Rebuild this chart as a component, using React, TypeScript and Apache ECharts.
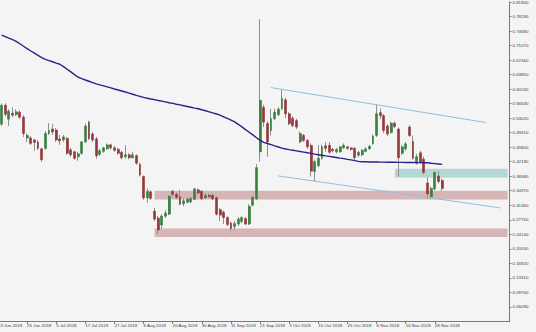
import React, { useEffect, useRef } from "react";
import * as echarts from "echarts";

const MONTHS = ["Jan", "Feb", "Mar", "Apr", "May", "Jun", "Jul", "Aug", "Sep", "Oct", "Nov", "Dec"];
const FIRST_DAY = Date.UTC(2018, 5, 13);
const CATEGORY_COUNT = 141;
const LAST_DATA_INDEX = 122; // 30 Nov 2018

// daily candles from 14 Jun 2018 to 30 Nov 2018
const OPEN = [
  0.5154, 0.5621, 0.5277, 0.5424, 0.5388, 0.5449, 0.5326, 0.4809, 0.4809, 0.4760,
  0.4711, 0.4539, 0.4551, 0.4920, 0.5031, 0.5006, 0.4785, 0.4760, 0.4797, 0.4514,
  0.4465, 0.4342, 0.4428, 0.4711, 0.5203, 0.4908, 0.4785, 0.4403, 0.4477, 0.4539,
  0.4637, 0.4563, 0.4526, 0.4453, 0.4342, 0.4391, 0.4317, 0.4367, 0.4157, 0.3850,
  0.3321, 0.3469, 0.2989, 0.2817, 0.2645, 0.2866, 0.2915, 0.3481, 0.3407, 0.3346,
  0.3173, 0.3210, 0.3223, 0.3284, 0.3518, 0.3481, 0.3321, 0.3383, 0.3383, 0.3321,
  0.3026, 0.2964, 0.2829, 0.2694, 0.2608, 0.2669, 0.2731, 0.2804, 0.2669, 0.3137,
  0.3297, 0.4465, 0.5572, 0.5166, 0.4994, 0.5289, 0.5388, 0.5535, 0.5757, 0.5412,
  0.5301, 0.5240, 0.4711, 0.4871, 0.4748, 0.4625, 0.3973, 0.4121, 0.4305, 0.4612,
  0.4625, 0.4526, 0.4465, 0.4465, 0.4563, 0.4588, 0.4563, 0.4551, 0.4379, 0.4391,
  0.4477, 0.4539, 0.4674, 0.4871, 0.5437, 0.5363, 0.5105, 0.4945, 0.5178, 0.5031,
  0.4428, 0.4539, 0.5080, 0.4723, 0.4182, 0.4440, 0.4280, 0.3690, 0.3346, 0.3543,
  0.3862, 0.3752,
];
const HIGH = [
  0.5670, 0.5670, 0.5523, 0.5572, 0.5523, 0.5498, 0.5375, 0.4920, 0.4859, 0.4785,
  0.4760, 0.4563, 0.4982, 0.5178, 0.5154, 0.5055, 0.4883, 0.4883, 0.4834, 0.4563,
  0.4490, 0.4465, 0.4735, 0.5166, 0.5240, 0.4957, 0.4834, 0.4539, 0.4588, 0.4674,
  0.4662, 0.4612, 0.4563, 0.4490, 0.4625, 0.4428, 0.4465, 0.4403, 0.4194, 0.3875,
  0.3555, 0.3506, 0.3075, 0.2866, 0.2915, 0.3014, 0.3383, 0.3518, 0.3456, 0.3518,
  0.3309, 0.3321, 0.3334, 0.3567, 0.3555, 0.3506, 0.3432, 0.3432, 0.3420, 0.3358,
  0.3063, 0.3001, 0.2866, 0.2731, 0.2743, 0.2841, 0.2866, 0.2841, 0.3161, 0.3358,
  0.4157, 0.7762, 0.5633, 0.5227, 0.5535, 0.5535, 0.5572, 0.6015, 0.5806, 0.5449,
  0.5351, 0.5289, 0.4969, 0.4908, 0.4785, 0.4674, 0.4268, 0.4625, 0.4637, 0.4711,
  0.4711, 0.4563, 0.4563, 0.4612, 0.4674, 0.4612, 0.4588, 0.4588, 0.4490, 0.4539,
  0.4576, 0.4637, 0.4895, 0.5646, 0.5547, 0.5400, 0.5154, 0.5215, 0.5215, 0.5068,
  0.4625, 0.4711, 0.5129, 0.4871, 0.4416, 0.4490, 0.4342, 0.3825, 0.3604, 0.3985,
  0.3985, 0.3801,
];
const LOW = [
  0.5105, 0.5351, 0.5105, 0.5326, 0.5351, 0.5277, 0.4834, 0.4711, 0.4637, 0.4490,
  0.4514, 0.4219, 0.4514, 0.4883, 0.4883, 0.4711, 0.4637, 0.4711, 0.4391, 0.4342,
  0.4268, 0.4243, 0.4391, 0.4686, 0.4760, 0.4711, 0.4293, 0.4367, 0.4440, 0.4514,
  0.4526, 0.4465, 0.4391, 0.4280, 0.4293, 0.4280, 0.4293, 0.4145, 0.3850, 0.3272,
  0.3198, 0.3272, 0.2743, 0.2423, 0.2546, 0.2817, 0.2891, 0.3358, 0.3284, 0.3137,
  0.3112, 0.3186, 0.3186, 0.3260, 0.3407, 0.3260, 0.3284, 0.3309, 0.3260, 0.2878,
  0.2743, 0.2669, 0.2620, 0.2509, 0.2522, 0.2620, 0.2694, 0.2645, 0.2645, 0.3112,
  0.3260, 0.4219, 0.5080, 0.4342, 0.4871, 0.5252, 0.5351, 0.5498, 0.5301, 0.5129,
  0.5080, 0.5031, 0.4674, 0.4711, 0.4539, 0.3850, 0.3727, 0.4084, 0.4268, 0.4465,
  0.4416, 0.4453, 0.4428, 0.4440, 0.4539, 0.4514, 0.4490, 0.4256, 0.4342, 0.4354,
  0.4453, 0.4514, 0.4637, 0.4834, 0.5277, 0.4932, 0.4859, 0.4908, 0.5055, 0.3850,
  0.4391, 0.4490, 0.4834, 0.4268, 0.4145, 0.4170, 0.3899, 0.3297, 0.3297, 0.3506,
  0.3678, 0.3493,
];
const CLOSE = [
  0.5621, 0.5400, 0.5474, 0.5375, 0.5461, 0.5326, 0.4920, 0.4871, 0.4674, 0.4699,
  0.4551, 0.4268, 0.4920, 0.4994, 0.4957, 0.4760, 0.4735, 0.4834, 0.4428, 0.4391,
  0.4305, 0.4416, 0.4711, 0.5105, 0.4797, 0.4760, 0.4367, 0.4490, 0.4563, 0.4637,
  0.4563, 0.4502, 0.4428, 0.4317, 0.4391, 0.4317, 0.4391, 0.4182, 0.3887, 0.3321,
  0.3481, 0.3309, 0.2792, 0.2522, 0.2866, 0.2940, 0.3358, 0.3407, 0.3334, 0.3161,
  0.3247, 0.3284, 0.3309, 0.3543, 0.3444, 0.3297, 0.3383, 0.3346, 0.3297, 0.2915,
  0.2891, 0.2829, 0.2657, 0.2558, 0.2681, 0.2792, 0.2829, 0.2669, 0.3112, 0.3334,
  0.4071, 0.5744, 0.5203, 0.4711, 0.5289, 0.5449, 0.5523, 0.5793, 0.5412, 0.5166,
  0.5117, 0.5080, 0.4920, 0.4748, 0.4588, 0.3985, 0.4219, 0.4305, 0.4588, 0.4551,
  0.4453, 0.4490, 0.4526, 0.4588, 0.4625, 0.4551, 0.4526, 0.4317, 0.4453, 0.4502,
  0.4539, 0.4600, 0.4859, 0.5412, 0.5363, 0.4994, 0.4908, 0.5178, 0.5092, 0.4317,
  0.4588, 0.4662, 0.4871, 0.4305, 0.4342, 0.4207, 0.3948, 0.3419, 0.3555, 0.3948,
  0.3727, 0.3555,
];
// moving average
const MA = [
  0.7366, 0.7329, 0.7290, 0.7253, 0.7211, 0.7152, 0.7090, 0.7031, 0.6972, 0.6918,
  0.6862, 0.6807, 0.6763, 0.6734, 0.6704, 0.6672, 0.6642, 0.6583, 0.6517, 0.6451,
  0.6384, 0.6320, 0.6283, 0.6251, 0.6219, 0.6187, 0.6155, 0.6128, 0.6104, 0.6079,
  0.6054, 0.6027, 0.6003, 0.5978, 0.5951, 0.5924, 0.5897, 0.5870, 0.5845, 0.5818,
  0.5798, 0.5779, 0.5761, 0.5742, 0.5725, 0.5705, 0.5685, 0.5668, 0.5648, 0.5631,
  0.5611, 0.5592, 0.5572, 0.5552, 0.5535, 0.5510, 0.5486, 0.5459, 0.5432, 0.5405,
  0.5378, 0.5336, 0.5294, 0.5252, 0.5210, 0.5149, 0.5085, 0.5018, 0.4952, 0.4885,
  0.4816, 0.4750, 0.4698, 0.4671, 0.4642, 0.4612, 0.4585, 0.4556, 0.4536, 0.4519,
  0.4504, 0.4489, 0.4472, 0.4457, 0.4440, 0.4425, 0.4408, 0.4393, 0.4378, 0.4364,
  0.4351, 0.4337, 0.4322, 0.4307, 0.4295, 0.4278, 0.4263, 0.4245, 0.4228, 0.4218,
  0.4216, 0.4213, 0.4213, 0.4211, 0.4208, 0.4208, 0.4206, 0.4206, 0.4204, 0.4201,
  0.4201, 0.4199, 0.4199, 0.4199, 0.4196, 0.4196, 0.4194, 0.4194, 0.4181, 0.4172,
  0.4162, 0.4152,
];

// channel lines: [category index, price]
const UPPER_CHANNEL = [[75, 0.6062], [134, 0.5193]];
const LOWER_CHANNEL = [[77, 0.3866], [138, 0.3069]];

// zones: start category index, low, high
const ZONE_START = [43, 43, 109];
const ZONE_LOW = [0.3279, 0.2349, 0.3825];
const ZONE_HIGH = [0.3498, 0.2558, 0.4046];
const ZONE_COLORS = ["#d5b5b5", "#d5b5b5", "#b4d7d4"];

// price axis
const Y_MIN = 0.0248;
const Y_MAX = 0.819;
const Y_STEP = 0.0361;

function buildCategories(): string[] {
  const out: string[] = [];
  let t = FIRST_DAY;
  while (out.length < CATEGORY_COUNT) {
    const d = new Date(t);
    const wd = d.getUTCDay();
    if (wd !== 0 && wd !== 6) {
      out.push(`${d.getUTCDate()} ${MONTHS[d.getUTCMonth()]} ${d.getUTCFullYear()}`);
    }
    t += 86400000;
  }
  return out;
}

export default function App() {
  const ref = useRef<HTMLDivElement>(null);

  useEffect(() => {
    if (!ref.current) return;
    const chart = echarts.init(ref.current, null, { renderer: "svg" });
    const cats = buildCategories();

    const full: any[] = ["-"];
    const bodies: any[] = ["-"];
    OPEN.forEach((o, j) => {
      const c = CLOSE[j];
      full.push([o, c, LOW[j], HIGH[j]]);
      bodies.push([o, c, Math.min(o, c), Math.max(o, c)]);
    });
    const ma: any[] = ["-", ...MA];

    const showTick = (index: number) => index % 8 === 0 && index <= LAST_DATA_INDEX;

    const zones = ZONE_START.map((s, j) => [
      { xAxis: cats[s], yAxis: ZONE_LOW[j], itemStyle: { color: ZONE_COLORS[j], opacity: 1 } },
      { xAxis: cats[CATEGORY_COUNT - 1], yAxis: ZONE_HIGH[j] },
    ]);

    const option: any = {
      animation: false,
      backgroundColor: "#f4f4f4",
      textStyle: { fontFamily: "Liberation Sans, Arial, sans-serif" },
      grid: { left: 0.53, right: 26.5, top: -1.4, bottom: 10.6, containLabel: false },
      xAxis: {
        type: "category",
        data: cats,
        boundaryGap: true,
        axisLine: { show: true, lineStyle: { color: "#7a7a7a", width: 1 } },
        axisTick: {
          show: true,
          alignWithLabel: true,
          length: 2.5,
          interval: (index: number) => showTick(index),
          lineStyle: { color: "#7a7a7a" },
        },
        axisLabel: {
          interval: (index: number) => showTick(index),
          align: "left",
          fontSize: 4.4,
          color: "#404040",
          margin: 2,
        },
        splitLine: { show: false },
      },
      yAxis: {
        type: "value",
        position: "right",
        min: Y_MIN,
        max: Y_MAX,
        interval: Y_STEP,
        scale: true,
        axisLine: { show: true, lineStyle: { color: "#7a7a7a", width: 1 } },
        axisTick: { show: true, length: 2, lineStyle: { color: "#7a7a7a" } },
        axisLabel: {
          showMinLabel: false,
          fontSize: 4.4,
          color: "#404040",
          margin: 3,
          formatter: (v: number) => v.toFixed(5),
        },
        splitLine: { show: false },
      },
      series: [
        {
          type: "candlestick",
          name: "wicks",
          data: full,
          barWidth: 1,
          z: 2,
          itemStyle: {
            color: "#8f8f8f",
            color0: "#8f8f8f",
            borderColor: "#8f8f8f",
            borderColor0: "#8f8f8f",
            borderWidth: 1,
          },
          markArea: {
            silent: true,
            z: 1,
            label: { show: false },
            data: zones,
          },
        },
        {
          type: "candlestick",
          name: "bodies",
          data: bodies,
          barWidth: 2.4,
          z: 3,
          itemStyle: {
            color: "#37803e",
            color0: "#93363d",
            borderColor: "#37803e",
            borderColor0: "#93363d",
            borderWidth: 0.6,
          },
        },
        {
          type: "line",
          name: "MA",
          data: ma,
          showSymbol: false,
          symbol: "none",
          z: 4,
          lineStyle: { color: "#25258c", width: 1.4 },
        },
        {
          type: "line",
          name: "upper",
          data: UPPER_CHANNEL.map(([k, v]) => [cats[k], v]),
          symbol: "none",
          z: 4,
          lineStyle: { color: "#95bedb", width: 1 },
        },
        {
          type: "line",
          name: "lower",
          data: LOWER_CHANNEL.map(([k, v]) => [cats[k], v]),
          symbol: "none",
          z: 4,
          lineStyle: { color: "#95bedb", width: 1 },
        },
      ],
    };

    chart.setOption(option);
    return () => chart.dispose();
  }, []);

  return (
    <div
      ref={ref}
      style={{ position: "fixed", left: -5, top: 0, width: 541, height: 332 }}
    />
  );
}
